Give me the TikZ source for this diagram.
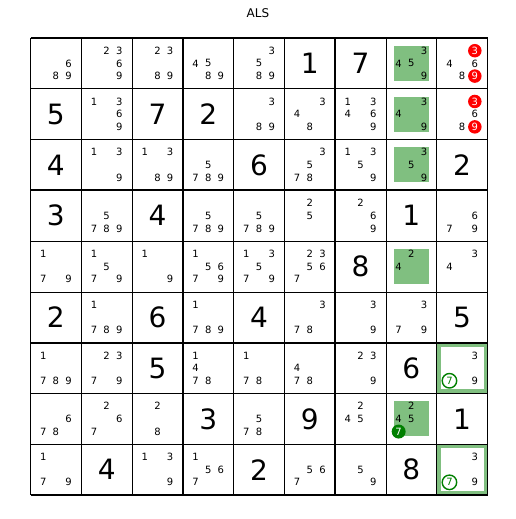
\documentclass[tikz,border=0pt]{standalone}
\usepackage{fontspec}
\setmainfont{DejaVu Sans}
\usepackage{tikz}

\definecolor{ltgreen}{rgb}{0.5,0.75,0.5}
\definecolor{dkgreen}{rgb}{0,0.5,0}

\newcommand{\cs}{50.78}
\newcommand{\ox}{30.5}
\newcommand{\oy}{38}

% given digit: row, column, value
\newcommand{\given}[3]{\node[bigdig] (v#1#2) at ({\ox+(#2-0.5)*\cs},{\oy+(#1-0.5)*\cs}) {#3};}
% candidates: [style] row, column, list
\newcommand{\cands}[4][cand]{%
  \foreach \d in {#4}{%
    \pgfmathtruncatemacro{\cc}{mod(\d-1,3)+1}%
    \pgfmathtruncatemacro{\rr}{div(\d-1,3)+1}%
    \node[#1] (c#2#3\d) at ({\ox+(#3-1)*\cs+\cc*\cs/4},{\oy+(#2-1)*\cs+\rr*\cs/4}) {\d};
  }}

\begin{document}
\begin{tikzpicture}[x=1pt, y=-1pt,
    bigdig/.style={font=\fontsize{28}{28}\selectfont, inner sep=0pt},
    cand/.style={font=\fontsize{10}{10}\selectfont, inner sep=0pt},
    redmark/.style={cand, circle, fill=red, text=white, minimum size=13.5pt},
    ringmark/.style={cand, circle, draw=dkgreen, line width=1.4pt, text=dkgreen, minimum size=14.5pt},
    dotmark/.style={cand, circle, fill=dkgreen, text=white, minimum size=14pt}]
  \useasboundingbox (0,0) rectangle (516,519);

  \node[font=\fontsize{12}{12}\selectfont] (title) at (258,13) {ALS};

  % highlighted cells
  \foreach \r/\c in {1/8, 2/8, 3/8, 5/8, 8/8}
    \fill[ltgreen] ({\ox+(\c-0.5)*\cs-17.5},{\oy+(\r-0.5)*\cs-17.5}) rectangle ++(35,35);
  \foreach \r/\c in {7/9, 9/9} {
    \fill[ltgreen] ({\ox+(\c-1)*\cs},{\oy+(\r-1)*\cs}) rectangle ++(\cs,\cs);
    \fill[white] ({\ox+(\c-1)*\cs+4},{\oy+(\r-1)*\cs+4}) rectangle ++(\cs-8,\cs-8);
  }

  % givens
  \foreach \r/\c/\v in {1/6/1, 1/7/7, 2/1/5, 2/3/7, 2/4/2, 3/1/4, 3/5/6, 3/9/2,
      4/1/3, 4/3/4, 4/8/1, 5/7/8, 6/1/2, 6/3/6, 6/5/4, 6/9/5, 7/3/5, 7/8/6,
      8/4/3, 8/6/9, 8/9/1, 9/2/4, 9/5/2, 9/8/8}
    {\given{\r}{\c}{\v}}

  % candidates
  \cands{1}{1}{6,8,9}
  \cands{1}{2}{2,3,6,9}
  \cands{1}{3}{2,3,8,9}
  \cands{1}{4}{4,5,8,9}
  \cands{1}{5}{3,5,8,9}
  \cands{1}{8}{3,4,5,9}
  \cands{1}{9}{4,6,8}
  \cands[redmark]{1}{9}{3,9}

  \cands{2}{2}{1,3,6,9}
  \cands{2}{5}{3,8,9}
  \cands{2}{6}{3,4,8}
  \cands{2}{7}{1,3,4,6,9}
  \cands{2}{8}{3,4,9}
  \cands{2}{9}{6,8}
  \cands[redmark]{2}{9}{3,9}

  \cands{3}{2}{1,3,9}
  \cands{3}{3}{1,3,8,9}
  \cands{3}{4}{5,7,8,9}
  \cands{3}{6}{3,5,7,8}
  \cands{3}{7}{1,3,5,9}
  \cands{3}{8}{3,5,9}

  \cands{4}{2}{5,7,8,9}
  \cands{4}{4}{5,7,8,9}
  \cands{4}{5}{5,7,8,9}
  \cands{4}{6}{2,5}
  \cands{4}{7}{2,6,9}
  \cands{4}{9}{6,7,9}

  \cands{5}{1}{1,7,9}
  \cands{5}{2}{1,5,7,9}
  \cands{5}{3}{1,9}
  \cands{5}{4}{1,5,6,7,9}
  \cands{5}{5}{1,3,5,7,9}
  \cands{5}{6}{2,3,5,6,7}
  \cands{5}{8}{2,4}
  \cands{5}{9}{3,4}

  \cands{6}{2}{1,7,8,9}
  \cands{6}{4}{1,7,8,9}
  \cands{6}{6}{3,7,8}
  \cands{6}{7}{3,9}
  \cands{6}{8}{3,7,9}

  \cands{7}{1}{1,7,8,9}
  \cands{7}{2}{2,3,7,9}
  \cands{7}{4}{1,4,7,8}
  \cands{7}{5}{1,7,8}
  \cands{7}{6}{4,7,8}
  \cands{7}{7}{2,3,9}
  \cands{7}{9}{3,9}
  \cands[ringmark]{7}{9}{7}

  \cands{8}{1}{6,7,8}
  \cands{8}{2}{2,6,7}
  \cands{8}{3}{2,8}
  \cands{8}{5}{5,7,8}
  \cands{8}{7}{2,4,5}
  \cands{8}{8}{2,4,5}
  \cands[dotmark]{8}{8}{7}

  \cands{9}{1}{1,7,9}
  \cands{9}{3}{1,3,9}
  \cands{9}{4}{1,5,6,7}
  \cands{9}{6}{5,6,7}
  \cands{9}{7}{5,9}
  \cands{9}{9}{3,9}
  \cands[ringmark]{9}{9}{7}

  % grid
  \foreach \i in {1,2,4,5,7,8} {
    \draw[line width=0.8pt] ({\ox+\i*\cs},\oy) -- ++(0,9*\cs);
    \draw[line width=0.8pt] (\ox,{\oy+\i*\cs}) -- ++(9*\cs,0);
  }
  \foreach \i in {0,3,6,9} {
    \draw[line width=1.8pt] ({\ox+\i*\cs},\oy) -- ++(0,9*\cs);
    \draw[line width=1.8pt] (\ox,{\oy+\i*\cs}) -- ++(9*\cs,0);
  }
\end{tikzpicture}
\end{document}
